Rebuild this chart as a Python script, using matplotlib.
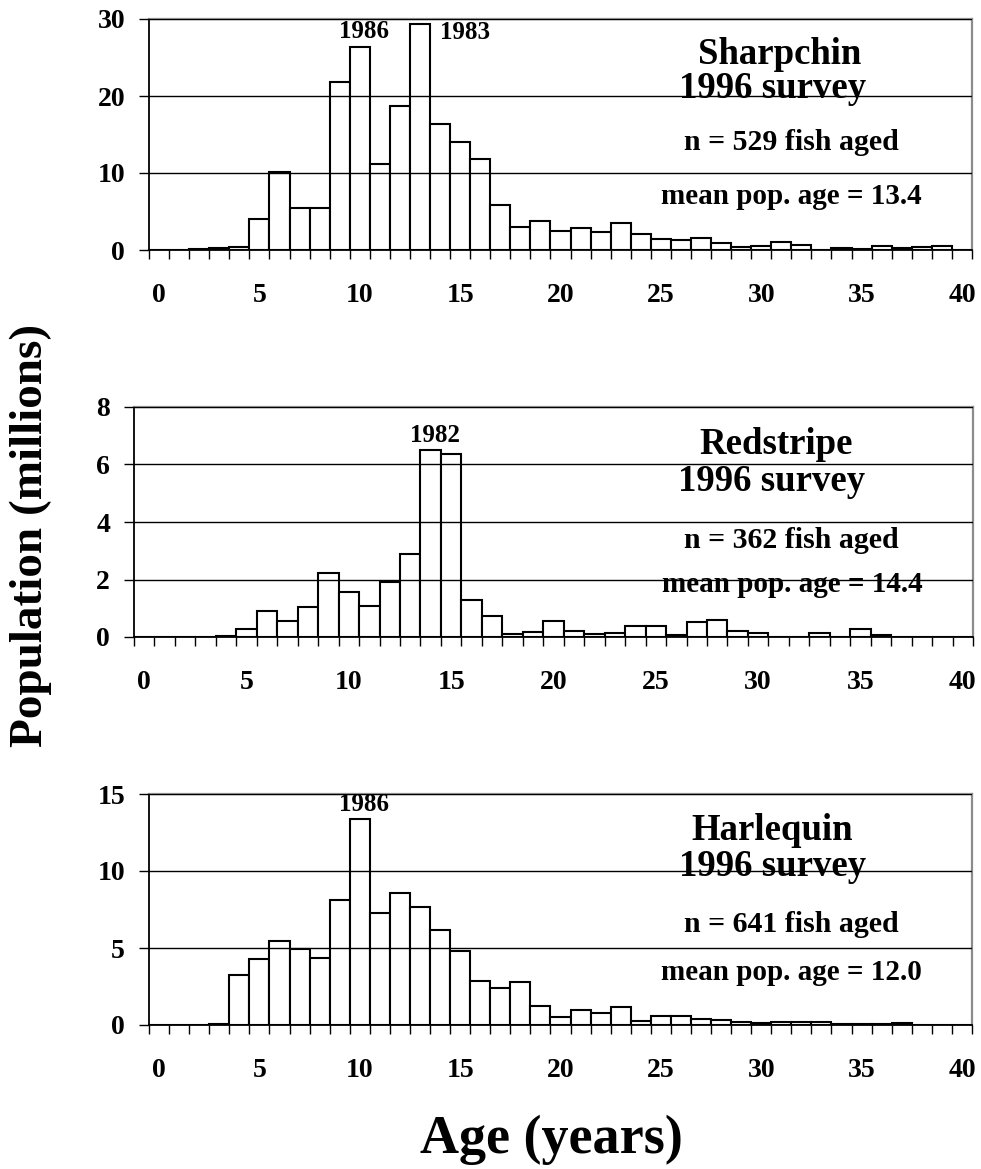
import matplotlib
matplotlib.use("Agg")
import matplotlib.pyplot as plt
import numpy as np

plt.rcParams['font.family'] = ['Liberation Serif', 'DejaVu Serif']
plt.rcParams['font.weight'] = 'bold'

ages = list(range(41))
sharpchin = [0, 0, 0.1, 0.25, 0.4, 4.0, 10.1, 5.5, 5.4, 21.8,
             26.4, 11.2, 18.7, 29.4, 16.3, 14.0, 11.8, 5.9, 3.0, 3.8,
             2.5, 2.9, 2.4, 3.5, 2.1, 1.4, 1.3, 1.5, 0.9, 0.4,
             0.5, 1.1, 0.7, 0, 0.2, 0.15, 0.55, 0.2, 0.35, 0.5, 0]
redstripe = [0, 0, 0, 0, 0.02, 0.27, 0.92, 0.56, 1.04, 2.22,
             1.55, 1.08, 1.9, 2.87, 6.5, 6.37, 1.28, 0.72, 0.1, 0.17,
             0.56, 0.21, 0.09, 0.15, 0.38, 0.37, 0.07, 0.51, 0.59, 0.22,
             0.13, 0, 0, 0.14, 0, 0.28, 0.07, 0, 0, 0, 0]
harlequin = [0, 0, 0, 0.04, 3.26, 4.26, 5.46, 4.96, 4.37, 8.09,
             13.35, 7.28, 8.57, 7.65, 6.2, 4.83, 2.83, 2.43, 2.78, 1.22,
             0.54, 1.0, 0.78, 1.17, 0.26, 0.59, 0.57, 0.39, 0.3, 0.22,
             0.1, 0.22, 0.22, 0.22, 0.09, 0.08, 0.06, 0.13, 0, 0, 0]

species = ["Sharpchin", "Redstripe", "Harlequin"]
n_aged = [529, 362, 641]
mean_age = ["13.4", "14.4", "12.0"]
y_max = [30, 8, 15]
y_step = [10, 2, 5]
peak_labels = [[(10, "1986"), (13, "1983")], [(14, "1982")], [(10, "1986")]]
x_ticks = list(range(0, 41, 5))

W, H = 981, 1169
fig = plt.figure(figsize=(W / 100, H / 100), dpi=100)

# axes rectangles in pixels: left, top, right, bottom
rects = [(149, 19, 972, 250), (134, 407, 973, 637), (149, 794, 972, 1025)]
series = [sharpchin, redstripe, harlequin]

# text positions (pixels) relative to figure
title_pos = [(780, 55), (776, 445), (772, 830)]
survey_pos = [(773, 88), (772, 482), (773, 867)]
n_pos = [(791, 143), (791, 540), (791, 925)]
mean_pos = [(791, 197), (792, 585), (791, 972)]

def fx(x):
    return x / W

def fy(y):
    return 1 - y / H

for i in range(3):
    l, t, r, b = rects[i]
    ax = fig.add_axes([fx(l), fy(b), (r - l) / W, (b - t) / H])
    ax.bar(ages, series[i], width=1.0, facecolor='white', edgecolor='black',
           linewidth=1.5, zorder=1)
    ax.set_xlim(-0.5, 40.5)
    ax.set_ylim(0, y_max[i])
    yt = np.arange(0, y_max[i] + 0.01, y_step[i])
    ax.set_yticks(yt)
    ax.set_yticklabels([str(int(v)) for v in yt])
    ax.set_xticks(x_ticks)
    ax.set_xticklabels([str(v) for v in x_ticks])
    ax.set_xticks(np.arange(-0.5, 41, 1.0), minor=True)
    ax.tick_params(axis='x', which='major', length=0, pad=24, labelsize=20)
    ax.tick_params(axis='x', which='minor', length=6.5, width=1.0, direction='out', color='black')
    ax.tick_params(axis='y', which='major', length=7.2, width=1.0, direction='out', pad=10, labelsize=20)
    ax.yaxis.grid(True, color='black', linewidth=1.0)
    ax.set_axisbelow(False)
    for sp in ['left', 'bottom']:
        ax.spines[sp].set_color('black')
        ax.spines[sp].set_linewidth(1.3)
    for sp in ['top', 'right']:
        ax.spines[sp].set_color('#8c8c8c')
        ax.spines[sp].set_linewidth(1.6)
    for lab in ax.get_xticklabels() + ax.get_yticklabels():
        lab.set_fontweight('bold')

    # peak year labels
    for (age, txt) in peak_labels[i]:
        if i == 0 and txt == "1983":
            ax.text(age + 1.0, y_max[i] * 0.94, txt, ha='left', va='center',
                    fontsize=18, fontweight='bold', zorder=4)
        else:
            ax.text(age + 0.2, series[i][age] + y_max[i] * 0.065, txt, ha='center',
                    va='center', fontsize=18, fontweight='bold', zorder=4)

    fig.text(fx(title_pos[i][0]), fy(title_pos[i][1]), species[i], ha='center', va='center',
             fontsize=26.5, fontweight='bold')
    fig.text(fx(survey_pos[i][0]), fy(survey_pos[i][1]), "1996 survey", ha='center', va='center',
             fontsize=26.5, fontweight='bold')
    fig.text(fx(n_pos[i][0]), fy(n_pos[i][1]), "n = %d fish aged" % n_aged[i], ha='center',
             va='center', fontsize=21.5, fontweight='bold')
    fig.text(fx(mean_pos[i][0]), fy(mean_pos[i][1]), "mean pop. age = %s" % mean_age[i],
             ha='center', va='center', fontsize=21, fontweight='bold')

fig.text(fx(31), fy(535), "Population (millions)", rotation=90, ha='center', va='center',
         fontsize=34, fontweight='bold')
fig.text(fx(551), fy(1140), "Age (years)", ha='center', va='center',
         fontsize=39, fontweight='bold')

fig.savefig("out.png", dpi=100)
